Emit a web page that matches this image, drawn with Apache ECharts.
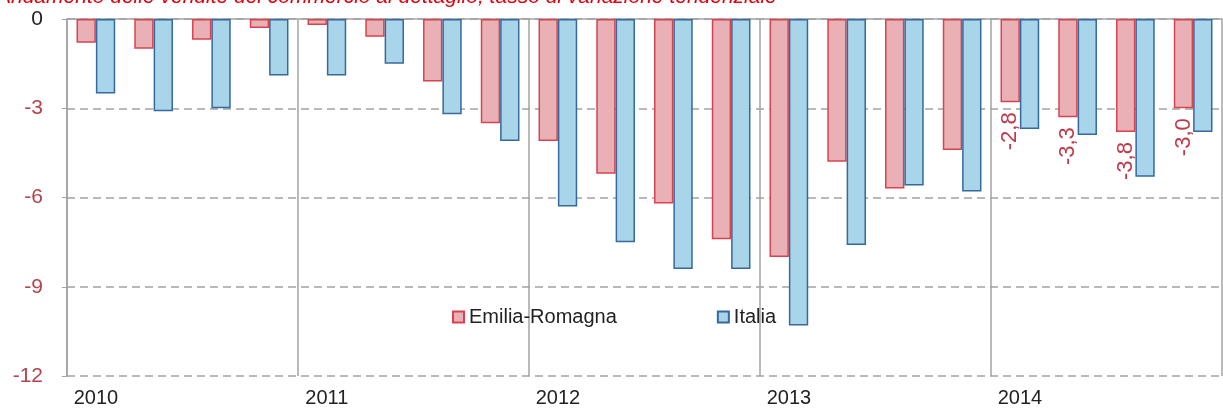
<!DOCTYPE html>
<html>
<head>
<meta charset="utf-8">
<script src="https://cdn.jsdelivr.net/npm/echarts@6/dist/echarts.min.js"></script>
<style>
  html, body { margin: 0; padding: 0; background: #fff; }
  #chart { width: 1223px; height: 409px; }
</style>
</head>
<body>
<div id="chart"></div>
<script>
var years = ['2010', '2011', '2012', '2013', '2014'];
var quarters = ['I', 'II', 'III', 'IV'];
var categories = [];
years.forEach(function (y) {
    quarters.forEach(function (q) { categories.push(q + ' ' + y); });
});

var emiliaRomagna = [-0.8, -1.0, -0.7, -0.3,
                     -0.2, -0.6, -2.1, -3.5,
                     -4.1, -5.2, -6.2, -7.4,
                     -8.0, -4.8, -5.7, -4.4,
                     -2.8, -3.3, -3.8, -3.0];
var italia = [-2.5, -3.1, -3.0, -1.9,
              -1.9, -1.5, -3.2, -4.1,
              -6.3, -7.5, -8.4, -8.4,
              -10.3, -7.6, -5.6, -5.8,
              -3.7, -3.9, -5.3, -3.8];
var yTicks = [0, -3, -6, -9, -12];

var titleText = 'Andamento delle vendite del commercio al dettaglio, tasso di variazione tendenziale';
var font = 'Liberation Sans';
var gray = '#a3a3a3';

var myChart = echarts.init(document.getElementById('chart'));
var option = {
    animation: false,
    graphic: [{
        type: 'text',
        left: -3,
        top: -13,
        style: {
            text: titleText,
            font: 'italic 21px "Liberation Sans"',
            fill: '#e3000f'
        }
    }],
    legend: {
        left: 447,
        top: 302,
        itemWidth: 11,
        itemHeight: 11,
        itemGap: 100,
        icon: 'rect',
        textStyle: { fontFamily: font, fontSize: 20, color: '#222' },
        data: ['Emilia-Romagna', 'Italia']
    },
    grid: { left: 67, right: 1, top: 19, bottom: 33 },
    xAxis: [{
        type: 'category',
        data: categories,
        position: 'bottom',
        axisLine: { show: false, onZero: false },
        axisTick: { show: false },
        axisLabel: {
            interval: 3,
            margin: 12,
            fontFamily: font,
            fontSize: 20,
            color: '#222',
            formatter: function (v) { return v.split(' ')[1]; }
        },
        splitLine: {
            show: true,
            interval: 3,
            lineStyle: { color: gray, width: 1.5 }
        }
    }, {
        type: 'category',
        data: categories,
        position: 'top',
        axisLine: { show: true, onZero: false, lineStyle: { color: gray, width: 1.5 } },
        axisTick: { show: false },
        axisLabel: { show: false }
    }],
    yAxis: {
        type: 'value',
        min: yTicks[yTicks.length - 1],
        max: yTicks[0],
        interval: 3,
        axisLine: { show: true, lineStyle: { color: gray, width: 1.5 } },
        axisTick: { show: true, length: 5, lineStyle: { color: gray } },
        axisLabel: {
            margin: 24,
            fontFamily: font,
            fontSize: 21,
            color: function (v) { return Number(v) === 0 ? '#222' : '#b5424c'; }
        },
        splitLine: {
            show: true,
            lineStyle: { color: gray, width: 1.5, type: [8, 5] }
        }
    },
    series: [{
        name: 'Emilia-Romagna',
        type: 'bar',
        data: emiliaRomagna,
        barGap: '0%',
        barCategoryGap: '33%',
        itemStyle: { color: '#e9b1b5', borderColor: '#d9434f', borderWidth: 1.5 },
        label: {
            show: true,
            position: 'bottom',
            distance: 10,
            rotate: 90,
            align: 'right',
            verticalAlign: 'middle',
            fontFamily: font,
            fontSize: 22,
            color: '#c0394a',
            formatter: function (p) {
                return p.dataIndex >= 16 ? String(p.value.toFixed(1)).replace('.', ',') : '';
            }
        }
    }, {
        name: 'Italia',
        type: 'bar',
        data: italia,
        barGap: '0%',
        barCategoryGap: '33%',
        itemStyle: { color: '#a8d5e9', borderColor: '#36699c', borderWidth: 1.5 }
    }]
};
myChart.setOption(option);
</script>
</body>
</html>
